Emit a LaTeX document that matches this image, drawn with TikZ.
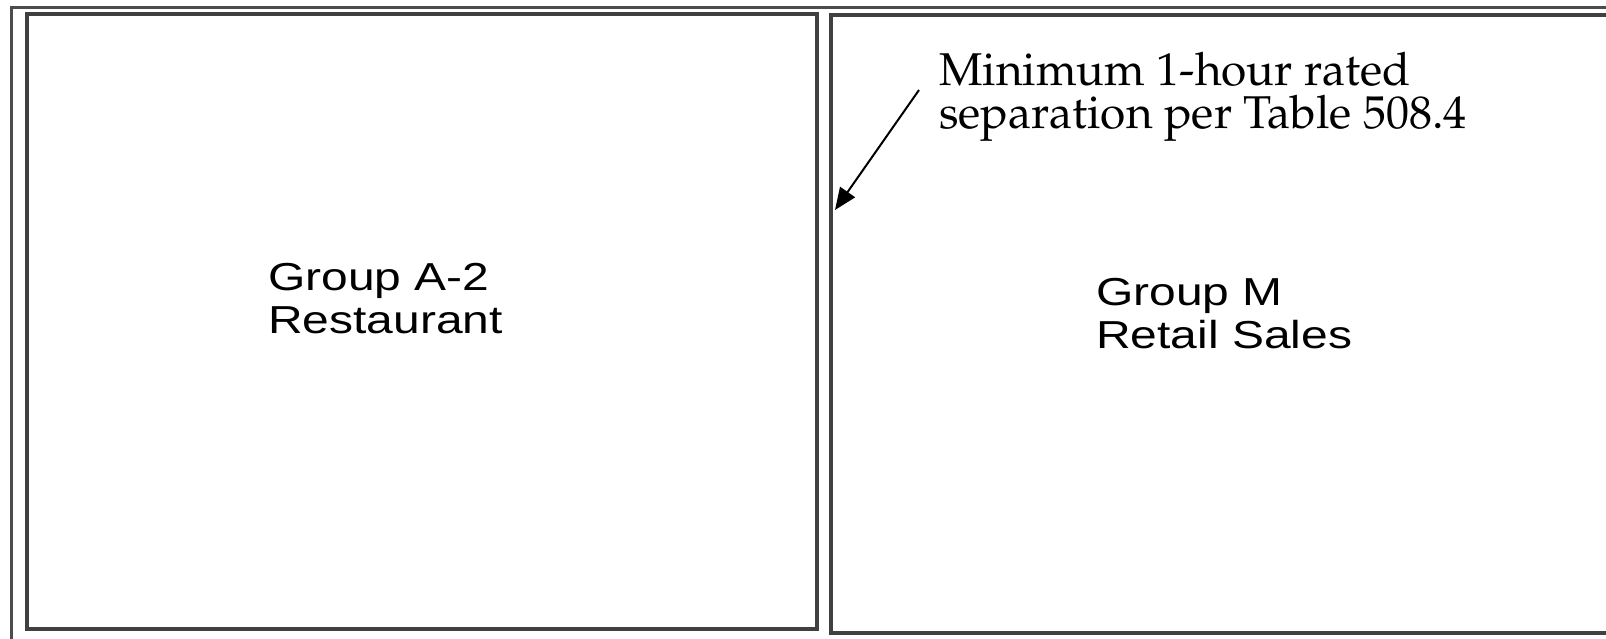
\documentclass[tikz,border=0pt]{standalone}
\usepackage[T1]{fontenc}
\usepackage{fontspec}
\setmainfont{Liberation Sans}
\usetikzlibrary{arrows.meta}
\tikzset{
  frameline/.style={draw=black!70, line width=3pt},
  boxline/.style={draw=black!75, line width=3.2pt},
  sanslabel/.style={anchor=base west, inner sep=0pt, font=\fontsize{39}{46}\selectfont},
  seriflabel/.style={anchor=base west, inner sep=0pt, font=\fontencoding{T1}\fontfamily{ppl}\fontseries{m}\fontshape{n}\fontsize{46}{55}\selectfont},
  pointer/.style={draw=black, line width=2pt, -{Triangle[length=22pt,width=18pt]}}
}
\newcommand{\wide}[1]{\scalebox{1.23}[1]{#1}}
\begin{document}
\begin{tikzpicture}[x=1pt,y=-1pt]
\useasboundingbox (0,0) rectangle (1606,638);
\clip (0,0) rectangle (1606,638);
% outer frame (cropped)
\draw[frameline] (11,645) -- (11,7) -- (1620,7);
% left room
\draw[boxline] (27,14) rectangle (817,629);
% right room
\draw[boxline] (1620,15) -- (831,15) -- (831,633) -- (1620,633);
% labels
\node[sanslabel] (a2a) at (268,290) {\wide{Group A-2}};
\node[sanslabel] (a2b) at (268,333) {\wide{Restaurant}};
\node[sanslabel] (ma) at (1096,305) {\wide{Group M}};
\node[sanslabel] (mb) at (1096,348) {\wide{Retail Sales}};
\node[seriflabel] (sa) at (939,85) {Minimum 1-hour rated};
\node[seriflabel] (sb) at (939,128) {separation per Table 508.4};
% pointer
\coordinate (tail) at (919,90);
\coordinate (tip) at (835,210);
\draw[pointer] (tail) -- (tip);
\end{tikzpicture}
\end{document}
